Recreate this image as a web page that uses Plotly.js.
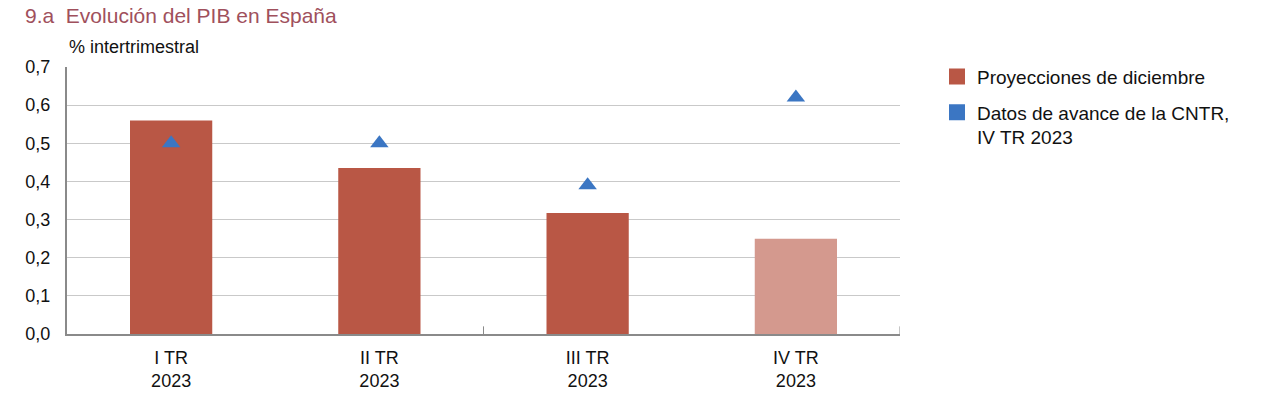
<!DOCTYPE html>
<html>
<head>
<meta charset="utf-8">
<script src="https://cdn.plot.ly/plotly-3.0.1.min.js"></script>
<style>html,body{margin:0;padding:0;background:#fff;}#chart{width:1268px;height:410px;}</style>
</head>
<body>
<div id="chart"></div>
<script>
const categories = ["I TR<br>2023", "II TR<br>2023", "III TR<br>2023", "IV TR<br>2023"];
const proyecciones = [0.56, 0.435, 0.317, 0.25];
const avance = [0.5, 0.5, 0.39, 0.62];
const yTicks = [0, 0.1, 0.2, 0.3, 0.4, 0.5, 0.6, 0.7];
const seriesNames = ["Proyecciones de diciembre", "Datos de avance de la CNTR,<br>IV TR 2023"];

const red = "#b95745";
const lightRed = "#d4998e";
const blue = "#3b76c3";
const barColors = [red, red, red, lightRed];

const font = "Liberation Sans, Arial, Helvetica, sans-serif";

const traces = [
  {
    type: "bar", x: categories, y: proyecciones,
    marker: {color: barColors}, width: 0.395,
    name: seriesNames[0], showlegend: false, hoverinfo: "y"
  },
  {
    type: "scatter", mode: "markers", x: categories, y: avance,
    marker: {symbol: "triangle-up", size: 16, color: blue},
    name: seriesNames[1], showlegend: false, hoverinfo: "y"
  },
  {
    type: "scatter", mode: "markers", x: [categories[0]], y: [null],
    marker: {symbol: "square", size: 16, color: red},
    name: seriesNames[0], showlegend: true, legendgroup: "a"
  },
  {
    type: "scatter", mode: "markers", x: [categories[0]], y: [null],
    marker: {symbol: "square", size: 16, color: blue},
    name: seriesNames[1], showlegend: true, legendgroup: "b"
  }
];

const layout = {
  width: 1268, height: 410,
  margin: {l: 67, r: 368, t: 67, b: 76},
  paper_bgcolor: "#fff", plot_bgcolor: "#fff",
  separators: ",.",
  font: {family: font, size: 17, color: "#111"},
  barmode: "overlay",
  title: {
    text: "9.a  Evolución del PIB en España",
    font: {family: font, size: 21, color: "#a0505c"},
    xref: "container", yref: "container", x: 25 / 1268, xanchor: "left",
    y: 1 - 16 / 410, yanchor: "middle"
  },
  xaxis: {
    type: "category", showgrid: false, showline: true, linecolor: "#8a8a8a", linewidth: 2,
    ticks: "", ticklabelstandoff: 6,
    tickfont: {family: font, size: 18, color: "#111"}, fixedrange: true,
    range: [-0.5, 3.5]
  },
  yaxis: {
    range: [0, 0.7], tickvals: yTicks, tickformat: ".1f",
    showgrid: true, gridcolor: "#c9c9c9", gridwidth: 1,
    showline: true, linecolor: "#8a8a8a", linewidth: 2, zeroline: false,
    ticks: "", ticklabelstandoff: 11,
    tickfont: {family: font, size: 18, color: "#111"},
    fixedrange: true
  },
  legend: {
    x: (937 - 67) / 833, y: 1.035, xanchor: "left", yanchor: "top",
    font: {family: font, size: 19, color: "#111"},
    tracegroupgap: 8, itemsizing: "trace", valign: "top",
    bgcolor: "rgba(0,0,0,0)"
  },
  annotations: [{
    text: "% intertrimestral", xref: "paper", yref: "paper", x: 0, y: 1, xanchor: "left", yanchor: "middle",
    yshift: 20, showarrow: false, font: {family: font, size: 18, color: "#111"}
  }],
  shapes: [1.5, 3.5].map(v => ({
    type: "line", xref: "x", yref: "y", x0: v, x1: v, y0: 0, y1: 0.02,
    line: {color: "#8a8a8a", width: 1}
  }))
};

Plotly.newPlot("chart", traces, layout, {displayModeBar: false, staticPlot: true});
</script>
</body>
</html>
